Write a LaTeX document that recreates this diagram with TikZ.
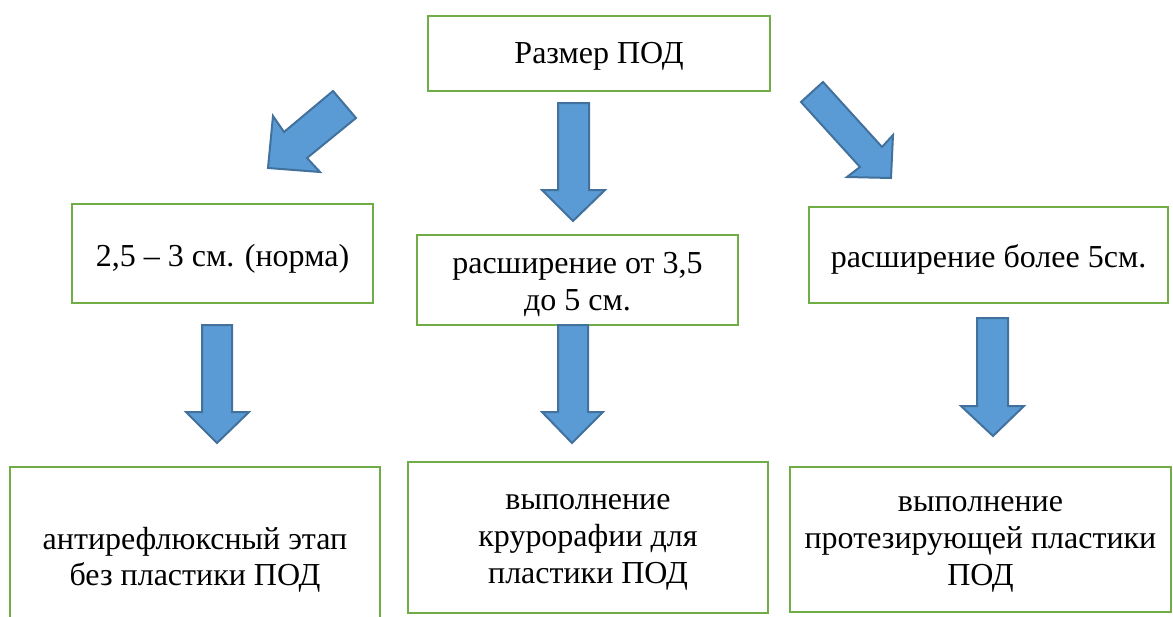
\documentclass[tikz,border=0pt]{standalone}
\usepackage{fontspec}
\setmainfont{Liberation Serif}
\newfontfamily\tnr{Liberation Serif}
\definecolor{boxgreen}{HTML}{70AD47}
\definecolor{arrowfill}{HTML}{5B9BD5}
\definecolor{arrowline}{HTML}{41719C}
\begin{document}
\begin{tikzpicture}[x=1pt,y=-1pt,
  box/.style={draw=boxgreen, line width=2.5pt, fill=white, inner sep=0pt},
  txt/.style={align=center, inner sep=0pt, font=\tnr\fontsize{32}{37}\selectfont},
  blockarrow/.style={fill=arrowfill, draw=arrowline, line width=2pt, line join=miter}]
\useasboundingbox (0,0) rectangle (1173,616);
\fill[white] (0,0) rectangle (1173,616);

\node[box, minimum width=342, minimum height=75] (top) at (599,53.5) {};
\node[txt] (toptext) at ([yshift=-3pt]top.center) {Размер ПОД};

\node[box, minimum width=301, minimum height=99] (l2) at (222.5,253.5) {};
\node[txt] (l2text) at ([yshift=-5pt]l2.center) {2,5 – 3 см. (норма)};
\node[box, minimum width=321, minimum height=90] (m2) at (577.5,280) {};
\node[txt] (m2text) at ([yshift=-4pt]m2.center) {расширение от 3,5\\до 5 см.};
\node[box, minimum width=359, minimum height=96] (r2) at (988.5,255) {};
\node[txt] (r2text) at ([yshift=-4pt]r2.center) {расширение более 5см.};

\node[box, minimum width=370, minimum height=178] (l3) at (195,556) {};
\node[txt, font=\tnr\fontsize{32}{36}\selectfont] (l3text) at ([yshift=-4pt]l3.center) {антирефлюксный этап\\без пластики ПОД};
\node[box, minimum width=360, minimum height=151] (m3) at (588,537.5) {};
\node[txt] (m3text) at ([yshift=-5pt]m3.center) {выполнение\\крурорафии для\\пластики ПОД};
\node[box, minimum width=381, minimum height=145] (r3) at (980.5,539.5) {};
\node[txt] (r3text) at ([yshift=-5pt]r3.center) {выполнение\\протезирующей пластики\\ПОД};

% diagonal block arrows
\draw[blockarrow] (333,91) -- (356,118) -- (307,158) -- (320,172) -- (268,168) -- (273,116) -- (284,132) -- cycle;
\draw[blockarrow] (801,102) -- (823,82) -- (882,147) -- (893,135) -- (891,178) -- (847,177) -- (860,167) -- cycle;

% vertical block arrows
\draw[blockarrow] (558,103) -- (589,103) -- (589,190) -- (605,190) -- (573,221) -- (542,190) -- (558,190) -- cycle;
\draw[blockarrow] (202,325) -- (232,325) -- (232,412) -- (249,412) -- (217,443) -- (186,412) -- (202,412) -- cycle;
\draw[blockarrow] (558,325) -- (588,325) -- (588,412) -- (603,412) -- (572,443) -- (542,412) -- (558,412) -- cycle;
\draw[blockarrow] (977,318) -- (1008,318) -- (1008,406) -- (1024,406) -- (993,436) -- (961,406) -- (977,406) -- cycle;
\end{tikzpicture}
\end{document}
